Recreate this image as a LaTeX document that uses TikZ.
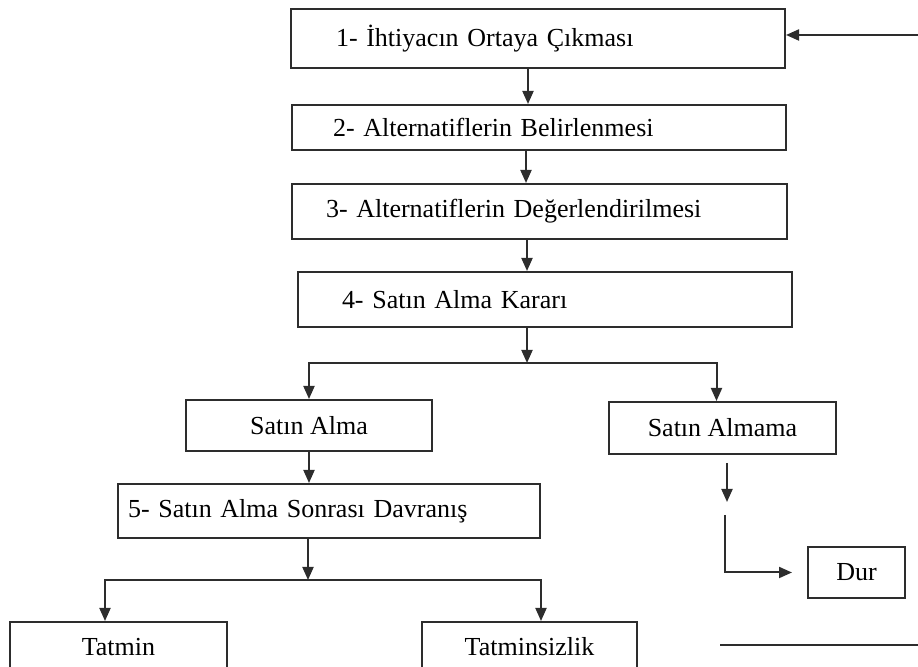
\documentclass[tikz,border=0pt]{standalone}
\usepackage{fontspec}
\setmainfont{Liberation Serif}
\usetikzlibrary{arrows.meta, positioning, calc}
\definecolor{inkgray}{RGB}{45, 45, 45}

\begin{document}
\begin{tikzpicture}[
    x=0.5pt, y=-0.5pt,
    stage/.style={
        rectangle,
        draw=inkgray,
        line width=1pt,
        align=left,
        inner ysep=0pt,
        minimum width=247pt,
        font=\fontsize{13}{15}\selectfont
    },
    choice/.style={
        rectangle,
        draw=inkgray,
        line width=1pt,
        align=center,
        inner ysep=0pt,
        font=\fontsize{13}{15}\selectfont
    },
    flow/.style={
        draw=inkgray,
        line width=1pt,
        -{Triangle[length=6.5pt, width=5.5pt]}
    }
]
    \useasboundingbox (0,0) rectangle (918,667);

    % ana asamalar
    \node[stage, minimum height=29.5pt, inner xsep=22.5pt, text width=202pt]
        (ihtiyac) at (538,38.5) {1- İhtiyacın Ortaya Çıkması};
    \node[stage, minimum height=22.5pt, inner xsep=20.5pt, text width=206pt]
        (belirleme) at (539,127.5) {2- Alternatiflerin Belirlenmesi};
    \node[stage, minimum width=247.5pt, minimum height=27.5pt, inner xsep=17pt, text width=213.5pt]
        (degerlendirme) at (539.5,211.5) {3- Alternatiflerin Değerlendirilmesi};
    \node[stage, minimum height=27.5pt, inner xsep=22pt, text width=203pt]
        (karar) at (545,299.5) {4- Satın Alma Kararı};

    % karar dallari
    \node[choice, minimum width=123pt, minimum height=25.5pt]
        (alma) at (309,425.5) {Satın Alma};
    \node[choice, minimum width=113.5pt, minimum height=26pt]
        (almama) at (722.5,428) {Satın Almama};
    \node[stage, minimum width=211pt, minimum height=27pt, inner xsep=5pt, text width=201pt]
        (sonrasi) at (329,511) {5- Satın Alma Sonrası Davranış};
    \node[choice, minimum width=48.5pt, minimum height=25.5pt]
        (dur) at (856.5,572.5) {Dur};
    \node[choice, minimum width=108.5pt, minimum height=25pt]
        (tatmin) at (118.5,647) {Tatmin};
    \node[choice, minimum width=107.5pt, minimum height=25pt]
        (tatminsizlik) at (529.5,647) {Tatminsizlik};

    % yardimci noktalar
    \coordinate (geri) at (918,35);
    \coordinate (ayrimA) at (527,363);
    \coordinate (ayrimB) at (308,580);
    \coordinate (durA) at (727,463);
    \coordinate (durB) at (727,502);
    \coordinate (kose) at (725,515);
    \coordinate (cizgiA) at (720,645);
    \coordinate (cizgiB) at (918,645);

    % oklar
    \draw[flow] (geri) -- (geri -| ihtiyac.east);
    \draw[flow] ([xshift=-5pt]ihtiyac.south) -- ([xshift=-5pt]ihtiyac.south |- belirleme.north);
    \draw[flow] ([xshift=-6.5pt]belirleme.south) -- ([xshift=-6.5pt]belirleme.south |- degerlendirme.north);
    \draw[flow] (ayrimA |- degerlendirme.south) -- (ayrimA |- karar.north);
    \draw[flow] (ayrimA |- karar.south) -- (ayrimA);
    \draw[flow] (ayrimA) -| (alma.north);
    \draw[flow] (ayrimA) -| ([xshift=-3pt]almama.north);
    \draw[flow] (alma.south) -- (alma.south |- sonrasi.north);
    \draw[flow] (ayrimB |- sonrasi.south) -- (ayrimB);
    \draw[flow] (ayrimB) -| ([xshift=-6.75pt]tatmin.north);
    \draw[flow] (ayrimB) -| ([xshift=5.75pt]tatminsizlik.north);
    \draw[flow] (durA) -- (durB);
    \draw[flow, shorten >=7.5pt] (kose) |- (dur.west);
    \draw[draw=inkgray, line width=1pt] (cizgiA) -- (cizgiB);
\end{tikzpicture}
\end{document}
